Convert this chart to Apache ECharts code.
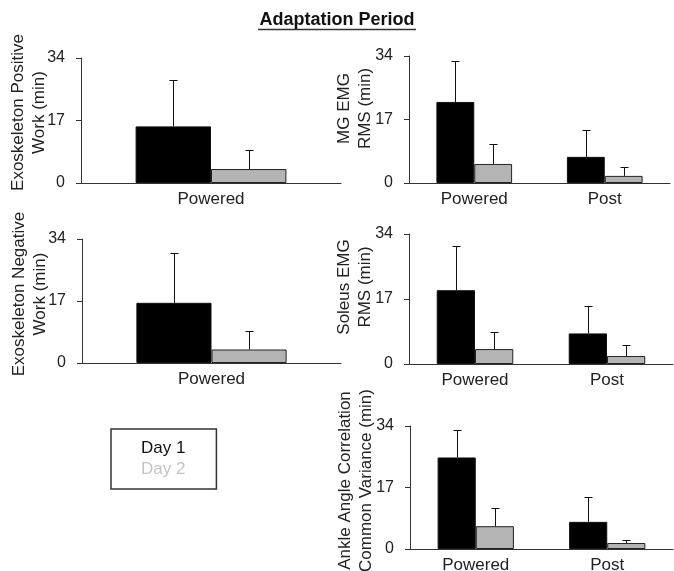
<!DOCTYPE html>
<html>
<head>
<meta charset="utf-8">
<script src="https://cdn.jsdelivr.net/npm/echarts@6/dist/echarts.min.js"></script>
<style>html,body{margin:0;padding:0;background:#fff;}#main{width:674px;height:571px;}</style>
</head>
<body>
<div id="main"></div>
<script>
// ---- data ----
const chartTitle = 'Adaptation Period';
const seriesNames = ['Day 1', 'Day 2'];
const catsOne = ['Powered'];
const catsTwo = ['Powered', 'Post'];
const yMin = 0, yMax = 34, yInterval = 17;

const posWorkDay1 = [15.4];
const posWorkDay1Err = [12.5];
const posWorkDay2 = [3.8];
const posWorkDay2Err = [5.2];

const negWorkDay1 = [16.5];
const negWorkDay1Err = [13.6];
const negWorkDay2 = [3.7];
const negWorkDay2Err = [5.0];

const mgDay1 = [21.7, 7.0];
const mgDay1Err = [11.0, 7.2];
const mgDay2 = [5.1, 1.9];
const mgDay2Err = [5.4, 2.5];

const solDay1 = [19.3, 8.0];
const solDay1Err = [11.6, 7.1];
const solDay2 = [3.9, 2.1];
const solDay2Err = [4.4, 2.9];

const ankDay1 = [25.3, 7.5];
const ankDay1Err = [7.7, 6.9];
const ankDay2 = [6.3, 1.65];
const ankDay2Err = [5.0, 0.95];

// ---- layout / style ----
const FONT = "'Liberation Sans', Arial, sans-serif";
const BAR_RATIO = 0.29;
const colDay1 = '#000000';
const colDay2 = '#b4b4b4';
const axisCol = '#333333';
const textCol = '#222222';

const panels = [
  { name: 'Exoskeleton Positive\nWork (min)', cats: catsOne, d1: posWorkDay1, e1: posWorkDay1Err, d2: posWorkDay2, e2: posWorkDay2Err,
    grid: { left: 81, top: 58, width: 260, height: 125 }, nameGap: 31, nameShift: 16 },
  { name: 'MG EMG\nRMS (min)', cats: catsTwo, d1: mgDay1, e1: mgDay1Err, d2: mgDay2, e2: mgDay2Err,
    grid: { left: 409, top: 56, width: 261, height: 127 }, nameGap: 33, nameShift: 22 },
  { name: 'Exoskeleton Negative\nWork (min)', cats: catsOne, d1: negWorkDay1, e1: negWorkDay1Err, d2: negWorkDay2, e2: negWorkDay2Err,
    grid: { left: 82, top: 239, width: 259, height: 124 }, nameGap: 31, nameShift: 14 },
  { name: 'Soleus EMG\nRMS (min)', cats: catsTwo, d1: solDay1, e1: solDay1Err, d2: solDay2, e2: solDay2Err,
    grid: { left: 409, top: 234, width: 264, height: 130 }, nameGap: 33, nameShift: 24 },
  { name: 'Ankle Angle Correlation\nCommon Variance (min)', cats: catsTwo, d1: ankDay1, e1: ankDay1Err, d2: ankDay2, e2: ankDay2Err,
    grid: { left: 410, top: 426, width: 263, height: 123 }, nameGap: 33, nameShift: 14 }
];

function errRender(side) {
  return function (params, api) {
    const cat = api.value(0), mean = api.value(1), err = api.value(2);
    const base = api.coord([cat, mean]);
    const top = api.coord([cat, mean + err]);
    const band = api.size([1, 0])[0];
    const x = Math.round(base[0] + side * band * BAR_RATIO / 2) + 0.5;
    const y0 = base[1], y1 = Math.round(top[1]) + 0.5;
    const st = { stroke: '#111', lineWidth: 1 };
    return {
      type: 'group',
      children: [
        { type: 'line', shape: { x1: x, y1: y0, x2: x, y2: y1 }, style: st },
        { type: 'line', shape: { x1: x - 4, y1: y1, x2: x + 4, y2: y1 }, style: st }
      ]
    };
  };
}

const grids = [], xAxes = [], yAxes = [], series = [];
panels.forEach(function (p, i) {
  grids.push(Object.assign({ containLabel: false, outerBoundsMode: 'none' }, p.grid));
  xAxes.push({
    type: 'category', gridIndex: i, data: p.cats,
    axisLine: { show: true, lineStyle: { color: axisCol, width: 1 } },
    axisTick: { show: false },
    axisLabel: { color: textCol, fontSize: 17, fontFamily: FONT, margin: 8 },
    splitLine: { show: false }
  });
  yAxes.push({
    type: 'value', gridIndex: i, min: yMin, max: yMax, interval: yInterval,
    name: p.name, nameLocation: 'middle', nameRotate: 90, nameGap: p.nameGap,
    nameMoveOverlap: false,
    nameTextStyle: { color: textCol, fontSize: 17, fontFamily: FONT, lineHeight: 21, align: 'center',
      padding: [0, 0, 0, p.nameShift] },
    axisLine: { show: true, lineStyle: { color: axisCol, width: 1 } },
    axisTick: { show: true, length: 5, lineStyle: { color: axisCol } },
    axisLabel: { color: textCol, fontSize: 16, fontFamily: FONT, margin: 16 },
    splitLine: { show: false }
  });
  series.push({
    type: 'bar', name: seriesNames[0], xAxisIndex: i, yAxisIndex: i, data: p.d1,
    barWidth: (BAR_RATIO * 100) + '%', barGap: '0%',
    itemStyle: { color: colDay1, borderColor: '#111', borderWidth: 1 }
  });
  series.push({
    type: 'bar', name: seriesNames[1], xAxisIndex: i, yAxisIndex: i, data: p.d2,
    barWidth: (BAR_RATIO * 100) + '%', barGap: '0%',
    itemStyle: { color: colDay2, borderColor: '#222', borderWidth: 1 }
  });
  series.push({
    type: 'custom', name: seriesNames[0] + ' error', xAxisIndex: i, yAxisIndex: i, z: 5,
    renderItem: errRender(-1), encode: { x: 0, y: 1 },
    data: p.d1.map(function (v, k) { return [k, v, p.e1[k]]; })
  });
  series.push({
    type: 'custom', name: seriesNames[1] + ' error', xAxisIndex: i, yAxisIndex: i, z: 5,
    renderItem: errRender(1), encode: { x: 0, y: 1 },
    data: p.d2.map(function (v, k) { return [k, v, p.e2[k]]; })
  });
});

const chart = echarts.init(document.getElementById('main'), null, { renderer: 'canvas' });
chart.setOption({
  backgroundColor: '#ffffff',
  animation: false,
  title: {
    text: chartTitle, left: 'center', top: 6,
    textStyle: { color: '#111', fontSize: 18, fontWeight: 'bold', fontFamily: FONT }
  },
  legend: {
    orient: 'vertical', left: 111, top: 429,
    data: [
      { name: seriesNames[0], textStyle: { color: '#111' } },
      { name: seriesNames[1], textStyle: { color: '#c4c4c4' } }
    ],
    icon: 'none', itemWidth: 0, itemHeight: 17, itemGap: 4,
    selectedMode: false,
    borderColor: '#333', borderWidth: 1.5, borderRadius: 0,
    padding: [11, 31, 11, 25],
    textStyle: { fontSize: 17, fontFamily: FONT }
  },
  graphic: [{
    type: 'line', left: 'center', top: 27,
    shape: { x1: 0, y1: 0, x2: 158, y2: 0 },
    style: { stroke: '#333', lineWidth: 1.5 }
  }],
  grid: grids, xAxis: xAxes, yAxis: yAxes, series: series
});
</script>
</body>
</html>
